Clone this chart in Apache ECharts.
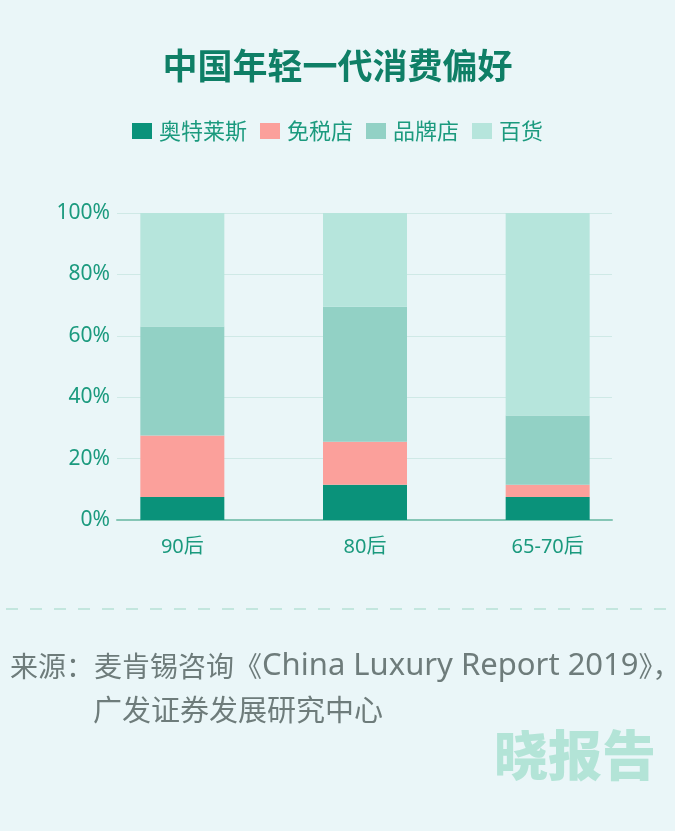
<!DOCTYPE html>
<html>
<head>
<meta charset="utf-8">
<title>中国年轻一代消费偏好</title>
<script src="https://cdn.jsdelivr.net/npm/echarts@6/dist/echarts.min.js"></script>
<style>
  html, body { margin: 0; padding: 0; background: #eaf6f8; }
  #chart { width: 675px; height: 831px; }
</style>
</head>
<body>
<div id="chart"></div>
<script>
// 分类与数据（百分比，从图上读取）
const categories = ['90后', '80后', '65-70后']
const seriesNames = ['奥特莱斯', '免税店', '品牌店', '百货']
const outletData = [7.5, 11.5, 7.5]
const dutyFreeData = [20, 14, 4]
const brandStoreData = [35.5, 44, 22.5]
const departmentData = [37, 30.5, 66]
const colors = ['#0a927a', '#fba09b', '#92d1c5', '#b6e5dc']

const font = '"Noto Sans CJK SC", "Noto Sans", sans-serif'
const latinFirst = '"Noto Sans", "Noto Sans CJK SC", sans-serif'
const teal = '#1b9a7e'
const grey = '#6e7c7b'

const chart = echarts.init(document.getElementById('chart'))

const values = [outletData, dutyFreeData, brandStoreData, departmentData]
const series = seriesNames.map((name, i) => ({
  name,
  type: 'bar',
  stack: 'total',
  xAxisIndex: 1,
  yAxisIndex: 1,
  barWidth: 84,
  itemStyle: { color: colors[i] },
  data: values[i],
}))

const option = {
  backgroundColor: '#eaf6f8',
  title: {
    text: '中国年轻一代消费偏好',
    left: 'center',
    top: 43,
    textStyle: { fontFamily: font, fontSize: 35, fontWeight: 'bold', color: '#0f7f66' },
  },
  legend: {
    data: seriesNames,
    top: 115,
    left: 'center',
    itemWidth: 20,
    itemHeight: 16,
    itemGap: 13,
    icon: 'rect',
    textStyle: { fontFamily: font, fontSize: 22, color: teal, padding: [0, 0, 0, 2] },
  },
  grid: [
    // 网格与坐标轴线
    { left: 117, right: 63, top: 213, bottom: 311 },
    // 柱子
    { left: 91, right: 36, top: 213, bottom: 311 },
  ],
  xAxis: [
    {
      gridIndex: 0,
      type: 'value',
      min: 0,
      max: 1,
      axisLine: { show: true, onZero: false, lineStyle: { color: '#86c6b6', width: 2 } },
      axisTick: { show: false },
      axisLabel: { show: false },
      splitLine: { show: false },
    },
    {
      gridIndex: 1,
      type: 'category',
      data: categories,
      axisLine: { show: false },
      axisTick: { show: false },
      axisLabel: { margin: 17, fontFamily: latinFirst, fontSize: 20, color: teal },
    },
  ],
  yAxis: [
    {
      gridIndex: 0,
      type: 'value',
      min: 0,
      max: 100,
      interval: 20,
      axisLine: { show: false },
      axisTick: { show: false },
      axisLabel: { margin: 7, formatter: '{value}%', fontFamily: latinFirst, fontSize: 21, color: teal },
      splitLine: { lineStyle: { color: '#cfe9e6', width: 1 } },
    },
    {
      gridIndex: 1,
      type: 'value',
      min: 0,
      max: 100,
      show: false,
    },
  ],
  graphic: [
    {
      type: 'line',
      shape: { x1: 6, y1: 609, x2: 668, y2: 609 },
      style: { stroke: '#c3e6de', lineWidth: 2, lineDash: [12, 12] },
    },
    {
      type: 'text',
      left: 10,
      top: 651,
      style: {
        text: '来源：麦肯锡咨询《{l|China Luxury Report 2019}》，',
        fontFamily: font,
        fontSize: 28,
        fill: grey,
        rich: {
          l: { fontFamily: latinFirst, fontSize: 31, fill: grey },
        },
      },
    },
    {
      type: 'text',
      left: 93,
      top: 695,
      style: {
        text: '广发证券发展研究中心',
        fontFamily: font,
        fontSize: 29,
        fill: grey,
      },
    },
    {
      type: 'text',
      left: 494,
      top: 728,
      style: {
        text: '晓报告',
        font: '900 54px ' + font,
        fill: '#b3e4d7',
      },
    },
  ],
  series,
}

chart.setOption(option)
</script>
</body>
</html>
